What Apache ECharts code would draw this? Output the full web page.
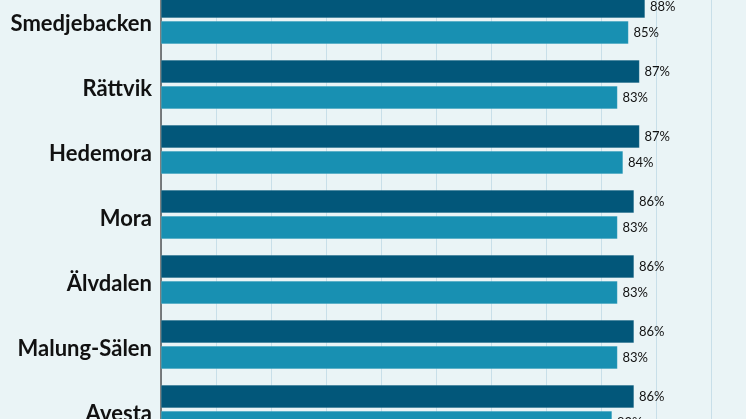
<!DOCTYPE html>
<html>
<head>
<meta charset="utf-8">
<script src="https://cdn.jsdelivr.net/npm/echarts@6/dist/echarts.min.js"></script>
<style>
html,body{margin:0;padding:0;background:#eaf4f6;overflow:hidden;width:746px;height:419px;}
#chart{position:absolute;left:0;top:-13px;width:746px;height:455px;}
</style>
</head>
<body>
<div id="chart"></div>
<script>
var categories = ["Smedjebacken", "Rättvik", "Hedemora", "Mora", "Älvdalen", "Malung-Sälen", "Avesta"];
var seriesA = [88, 87, 87, 86, 86, 86, 86];
var seriesB = [85, 83, 84, 83, 83, 83, 82];

var chart = echarts.init(document.getElementById('chart'));
var labelStyle = {
  show: true,
  position: 'right',
  distance: 5,
  formatter: '{c}%',
  color: '#111',
  fontSize: 13,
  fontFamily: 'Lato, "Open Sans", sans-serif'
};
chart.setOption({
  backgroundColor: '#eaf4f6',
  animation: false,
  grid: { left: 161, right: 35, top: 0, bottom: 0, containLabel: false },
  xAxis: {
    type: 'value', min: 0, max: 100, interval: 10,
    axisLabel: { show: false },
    axisLine: { show: false },
    axisTick: { show: false },
    splitLine: { show: true, lineStyle: { color: '#c8dfe9', width: 1 } }
  },
  yAxis: {
    type: 'category', data: categories, inverse: true,
    axisLine: { show: true, lineStyle: { color: '#555', width: 1.5 } },
    axisTick: { show: false },
    axisLabel: {
      margin: 9, color: '#111', fontSize: 22, fontWeight: 'bold',
      fontFamily: 'Lato, "Open Sans", sans-serif',
      verticalAlign: 'top', lineHeight: 8
    }
  },
  series: [
    {
      type: 'bar', data: seriesA, barWidth: 23, barGap: '13%',
      itemStyle: { color: '#02577a', borderColor: 'rgba(255,255,255,0.25)', borderWidth: 0.5 },
      label: labelStyle
    },
    {
      type: 'bar', data: seriesB, barWidth: 23,
      itemStyle: { color: '#1890b2', borderColor: 'rgba(255,255,255,0.25)', borderWidth: 0.5 },
      label: labelStyle
    }
  ]
});
</script>
</body>
</html>
